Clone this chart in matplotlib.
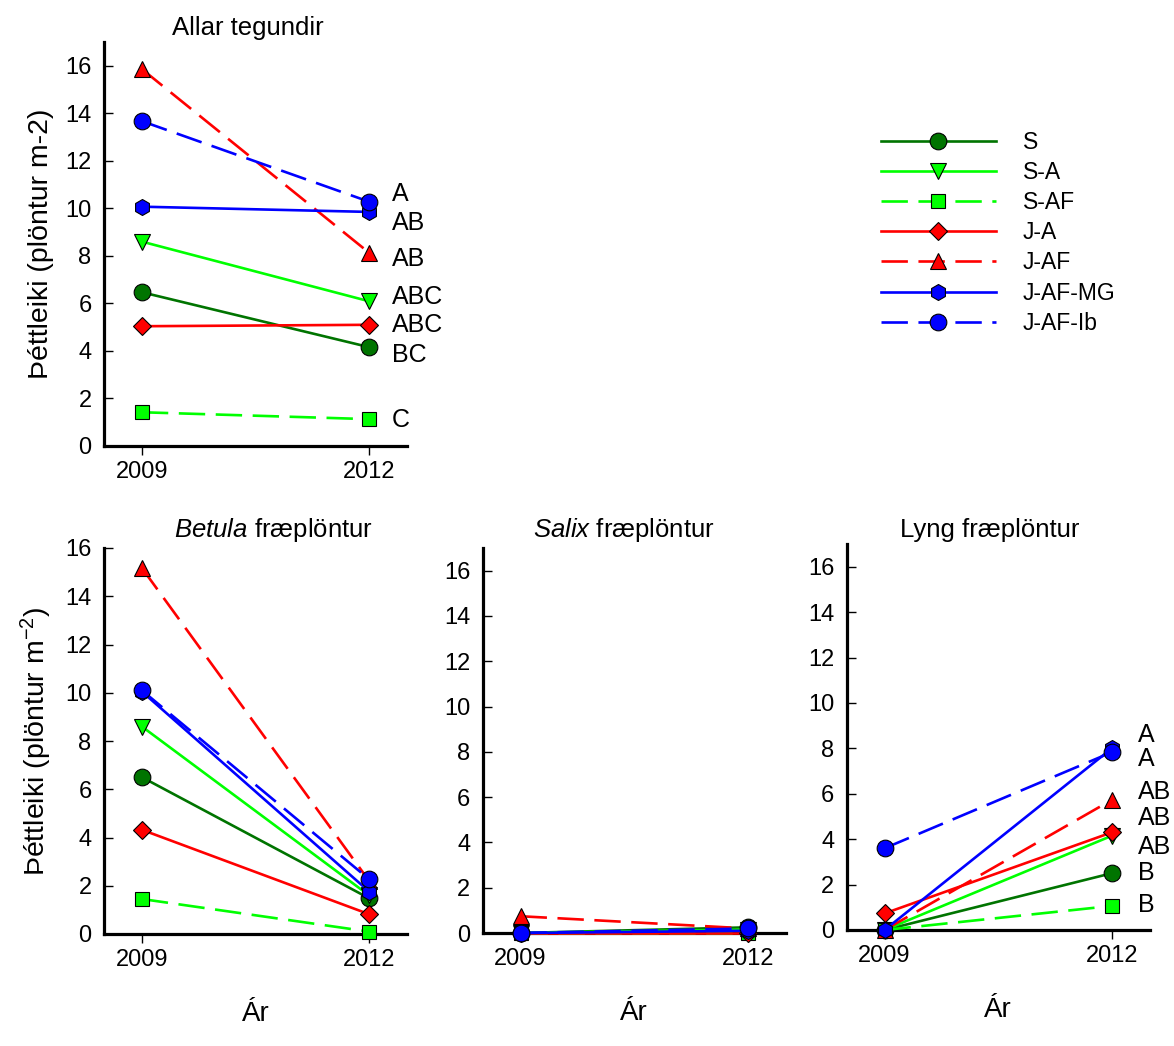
import matplotlib
matplotlib.use("Agg")
import matplotlib.pyplot as plt

plt.rcParams['font.family'] = ['Liberation Sans', 'DejaVu Sans']
plt.rcParams['mathtext.fontset'] = 'custom'
plt.rcParams['mathtext.rm'] = 'Liberation Sans'
plt.rcParams['mathtext.it'] = 'Liberation Sans:italic'

years = [2009, 2012]
groups = ["S", "S-A", "S-AF", "J-A", "J-AF", "J-AF-MG", "J-AF-Ib"]

# Þéttleiki, röð eins og í groups
allar_2009 = [6.47, 8.6, 1.42, 5.04, 15.86, 10.07, 13.67]
allar_2012 = [4.16, 6.09, 1.13, 5.1, 8.13, 9.85, 10.28]
betula_2009 = [6.5, 8.6, 1.45, 4.32, 15.17, 10.05, 10.1]
betula_2012 = [1.48, 1.6, 0.1, 0.82, 2.2, 1.76, 2.27]
salix_2009 = [0.0, 0.0, 0.0, 0.0, 0.74, 0.0, 0.0]
salix_2012 = [0.25, 0.15, 0.0, 0.0, 0.2, 0.1, 0.2]
lyng_2009 = [0.0, 0.0, 0.0, 0.73, 0.0, 0.0, 3.6]
lyng_2012 = [2.5, 4.15, 1.06, 4.3, 5.73, 8.0, 7.83]

allar_letters = ["BC", "ABC", "C", "ABC", "AB", "AB", "A"]
lyng_letters = ["B", "AB", "B", "AB", "AB", "A", "A"]
# hæð bókstafa (staðsetning)
allar_letter_y = [3.84, 6.29, 1.1, 5.1, 7.85, 9.37, 10.6]
lyng_letter_y = [2.51, 3.66, 1.1, 4.93, 6.08, 8.6, 7.55]

colors = ['#007400', '#00ff00', '#00ff00', '#ff0000', '#ff0000', '#0000ff', '#0000ff']
markers = ['o', 'v', 's', 'D', '^', 'h', 'o']
msizes = [12, 11, 9.5, 9, 11, 11.5, 12]
dash = (0, (10, 4))
styles = ['-', '-', dash, '-', dash, '-', dash]

fig = plt.figure(figsize=(11.74, 10.46), dpi=100)

W = 303 / 1174
ax_top = fig.add_axes([104 / 1174, 1 - 446 / 1046, W, 404 / 1046])
ax_bet = fig.add_axes([104 / 1174, 1 - 934 / 1046, W, 386 / 1046])
ax_sal = fig.add_axes([482.7 / 1174, 1 - 933 / 1046, W, 385 / 1046])
ax_lyn = fig.add_axes([846.7 / 1174, 1 - 930 / 1046, W, 386 / 1046])


def draw(ax, v09, v12, ytop):
    for i, g in enumerate(groups):
        ax.plot(years, [v09[i], v12[i]], color=colors[i], linestyle=styles[i],
                linewidth=1.9, marker=markers[i], markersize=msizes[i],
                markerfacecolor=colors[i], markeredgecolor='black',
                markeredgewidth=0.8, label=g, clip_on=False, zorder=3 + i * 0.1)
    ax.set_xlim(2008.5, 2012.5)
    ax.set_ylim(0, ytop)
    ax.set_xticks(years)
    ax.set_xticklabels(["2009", "2012"])
    ax.set_yticks(range(0, 17, 2))
    for s in ['top', 'right']:
        ax.spines[s].set_visible(False)
    for s in ['left', 'bottom']:
        ax.spines[s].set_linewidth(2.3)
    ax.tick_params(axis='y', direction='in', length=6.5, width=1, labelsize=17, pad=9)
    ax.tick_params(axis='x', direction='out', length=6.5, width=1, labelsize=17, pad=4)


draw(ax_top, allar_2009, allar_2012, 17)
draw(ax_bet, betula_2009, betula_2012, 16)
draw(ax_sal, salix_2009, salix_2012, 17)
draw(ax_lyn, lyng_2009, lyng_2012, 17)

for i, t in enumerate(allar_letters):
    ax_top.text(2012.3, allar_letter_y[i], t, fontsize=18, ha='left', va='center')
for i, t in enumerate(lyng_letters):
    ax_lyn.text(2012.35, lyng_letter_y[i], t, fontsize=18, ha='left', va='center', clip_on=False)

ax_top.set_title("Allar tegundir", fontsize=18.5, x=0.475, pad=5)
ax_bet.set_title(r"$\mathit{Betula}$ fræplöntur", fontsize=18.5, x=0.558, pad=8)
ax_sal.set_title(r"$\mathit{Salix}$ fræplöntur", fontsize=18.5, x=0.466, pad=8)
ax_lyn.set_title("Lyng fræplöntur", fontsize=18.5, x=0.473, pad=5)

ax_top.set_ylabel("Þéttleiki (plöntur m-2)", fontsize=20.5, labelpad=8)
ax_bet.set_ylabel(r"Þéttleiki (plöntur m$^{-2}$)", fontsize=20.5, labelpad=8)
for ax in [ax_bet, ax_sal, ax_lyn]:
    ax.set_xlabel("Ár", fontsize=20, labelpad=22)

handles, labels = ax_top.get_legend_handles_labels()
fig.legend(handles, labels, loc='upper left', bbox_to_anchor=(881 / 1174, 1 - 131 / 1046),
           frameon=False, fontsize=16.5, handlelength=5.0, handletextpad=1.18,
           labelspacing=0.31, borderpad=0, borderaxespad=0, numpoints=1)

fig.savefig("out.png", dpi=100)
